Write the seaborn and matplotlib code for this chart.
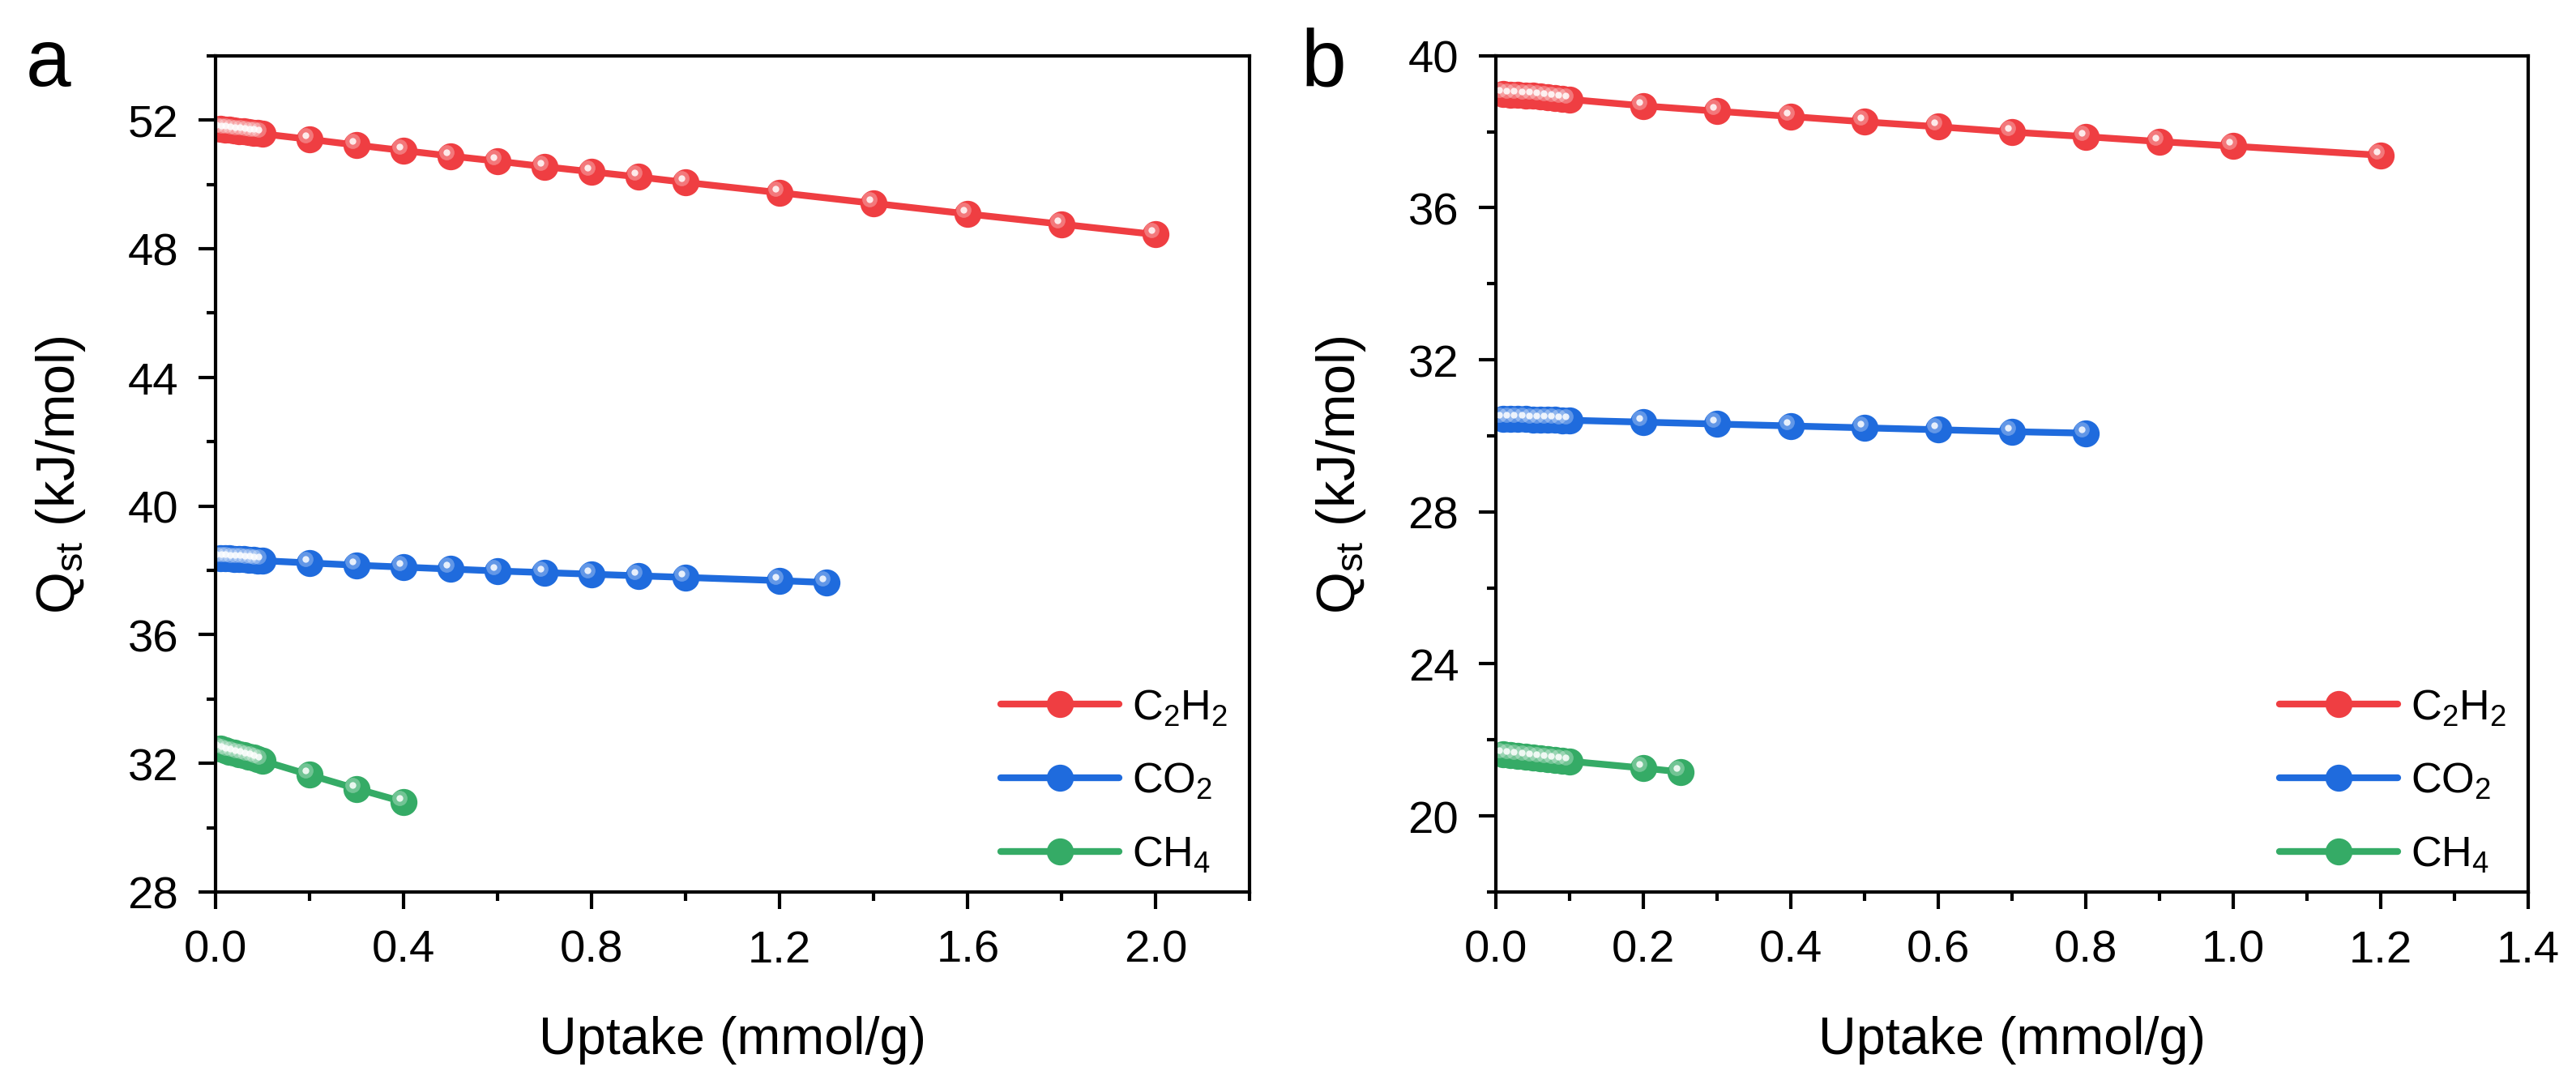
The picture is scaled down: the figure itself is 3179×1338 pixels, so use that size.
import numpy as np
import pandas as pd
import matplotlib
matplotlib.use("Agg")
import matplotlib.pyplot as plt
import matplotlib.transforms as mtransforms
from matplotlib.ticker import MultipleLocator, FormatStrFormatter
from matplotlib.lines import Line2D
import seaborn as sns

# ---------------------------------------------------------------------------
# Data
# ---------------------------------------------------------------------------
low_x = [0.01, 0.02, 0.03, 0.04, 0.05, 0.06, 0.07, 0.08, 0.09, 0.10]

# panel a
a_c2h2_x = low_x + [0.2, 0.3, 0.4, 0.5, 0.6, 0.7, 0.8, 0.9, 1.0, 1.2, 1.4, 1.6, 1.8, 2.0]
a_c2h2_y = [51.72, 51.70, 51.69, 51.67, 51.66, 51.64, 51.62, 51.61, 51.59, 51.57,
            51.40, 51.22, 51.05, 50.88, 50.72, 50.55, 50.39, 50.23, 50.06,
            49.74, 49.41, 49.08, 48.76, 48.44]
a_co2_x = low_x + [0.2, 0.3, 0.4, 0.5, 0.6, 0.7, 0.8, 0.9, 1.0, 1.2, 1.3]
a_co2_y = [38.38, 38.37, 38.37, 38.36, 38.35, 38.34, 38.33, 38.32, 38.31, 38.30,
           38.23, 38.16, 38.10, 38.04, 37.98, 37.93, 37.88, 37.83, 37.78, 37.68, 37.62]
a_ch4_x = low_x + [0.2, 0.3, 0.4]
a_ch4_y = [32.45, 32.41, 32.37, 32.33, 32.29, 32.25, 32.21, 32.17, 32.13, 32.08,
           31.64, 31.21, 30.80]

# panel b
b_c2h2_x = low_x + [0.2, 0.3, 0.4, 0.5, 0.6, 0.7, 0.8, 0.9, 1.0, 1.2]
b_c2h2_y = [39.00, 38.98, 38.97, 38.95, 38.94, 38.92, 38.90, 38.89, 38.87, 38.85,
            38.68, 38.54, 38.40, 38.26, 38.13, 37.99, 37.87, 37.74, 37.62, 37.38]
b_co2_x = low_x + [0.2, 0.3, 0.4, 0.5, 0.6, 0.7, 0.8]
b_co2_y = [30.45, 30.45, 30.44, 30.44, 30.43, 30.43, 30.42, 30.42, 30.41, 30.41,
           30.36, 30.31, 30.26, 30.21, 30.16, 30.11, 30.07]
b_ch4_x = low_x + [0.2, 0.25]
b_ch4_y = [21.62, 21.60, 21.58, 21.56, 21.54, 21.52, 21.50, 21.48, 21.46, 21.44,
           21.26, 21.16]

gas_labels = ["C$_2$H$_2$", "CO$_2$", "CH$_4$"]
gas_colors = ["#EF3E42", "#1F6BDD", "#35AB66"]

# ---------------------------------------------------------------------------
# Style
# ---------------------------------------------------------------------------
sns.set_style("ticks")
plt.rcParams["font.family"] = ["Liberation Sans", "DejaVu Sans"]
plt.rcParams["mathtext.fontset"] = "custom"
plt.rcParams["mathtext.rm"] = "Liberation Sans"
plt.rcParams["mathtext.it"] = "Liberation Sans:italic"
plt.rcParams["axes.linewidth"] = 1.0
plt.rcParams["text.color"] = "black"
plt.rcParams["axes.labelcolor"] = "black"
plt.rcParams["xtick.color"] = "black"
plt.rcParams["ytick.color"] = "black"

fig = plt.figure(figsize=(10.597, 4.463), dpi=300)
ax_a = fig.add_axes([0.0837, 0.177, 0.4015, 0.771])
ax_b = fig.add_axes([0.5807, 0.177, 0.4008, 0.771])


def draw_series(ax, xs, ys, color, label):
    df = pd.DataFrame({"x": xs, "y": ys})
    sns.lineplot(data=df, x="x", y="y", ax=ax, color=color, lw=2.0,
                 marker="o", markersize=8, markeredgewidth=0,
                 sort=False, label=label, legend=False)
    # glossy highlight on the balls
    off = mtransforms.offset_copy(ax.transData, fig=fig, x=-1.2, y=1.2, units="points")
    ax.plot(xs, ys, ls="none", marker="o", markersize=4.5, color="white",
            alpha=0.3, markeredgewidth=0, transform=off)
    ax.plot(xs, ys, ls="none", marker="o", markersize=2.0, color="white",
            alpha=0.85, markeredgewidth=0, transform=off)


def style_axes(ax, xlim, ylim, xmaj, xmin, ymaj, ymin):
    ax.set_xlim(*xlim)
    ax.set_ylim(*ylim)
    ax.xaxis.set_major_locator(MultipleLocator(xmaj))
    ax.xaxis.set_minor_locator(MultipleLocator(xmin))
    ax.yaxis.set_major_locator(MultipleLocator(ymaj))
    ax.yaxis.set_minor_locator(MultipleLocator(ymin))
    ax.xaxis.set_major_formatter(FormatStrFormatter("%.1f"))
    for s in ax.spines.values():
        s.set_visible(True)
        s.set_linewidth(1.0)
        s.set_color("black")
    ax.tick_params(which="major", direction="out", length=5, width=1.0,
                   labelsize=13.5, pad=6, top=False, right=False)
    ax.tick_params(which="minor", direction="out", length=2.6, width=1.0,
                   top=False, right=False)
    ax.set_xlabel("Uptake (mmol/g)", fontsize=15.5, labelpad=13)
    ax.set_ylabel("Q$_{\\rm st}$ (kJ/mol)", fontsize=16, labelpad=12)
    handles = [Line2D([], [], color=c, lw=2.0, marker="o", markersize=8,
                      markeredgewidth=0) for c in gas_colors]
    ax.legend(handles, gas_labels, loc="lower right", frameon=False,
              fontsize=12.5, handlelength=2.8, labelspacing=0.8,
              handletextpad=0.3, borderaxespad=0.0, bbox_to_anchor=(0.995, 0.0))


panel_a = [(a_c2h2_x, a_c2h2_y), (a_co2_x, a_co2_y), (a_ch4_x, a_ch4_y)]
panel_b = [(b_c2h2_x, b_c2h2_y), (b_co2_x, b_co2_y), (b_ch4_x, b_ch4_y)]

for (xs, ys), c, lab in zip(panel_a, gas_colors, gas_labels):
    draw_series(ax_a, xs, ys, c, lab)
for (xs, ys), c, lab in zip(panel_b, gas_colors, gas_labels):
    draw_series(ax_b, xs, ys, c, lab)

style_axes(ax_a, (0, 2.2), (28, 54), 0.4, 0.2, 4, 2)
style_axes(ax_b, (0, 1.4), (18, 40), 0.2, 0.1, 4, 2)

fig.text(0.010, 0.94, "a", fontsize=24, va="center", ha="left")
fig.text(0.505, 0.94, "b", fontsize=24, va="center", ha="left")

fig.savefig("out.png", dpi=300, facecolor="white")
plt.close(fig)
